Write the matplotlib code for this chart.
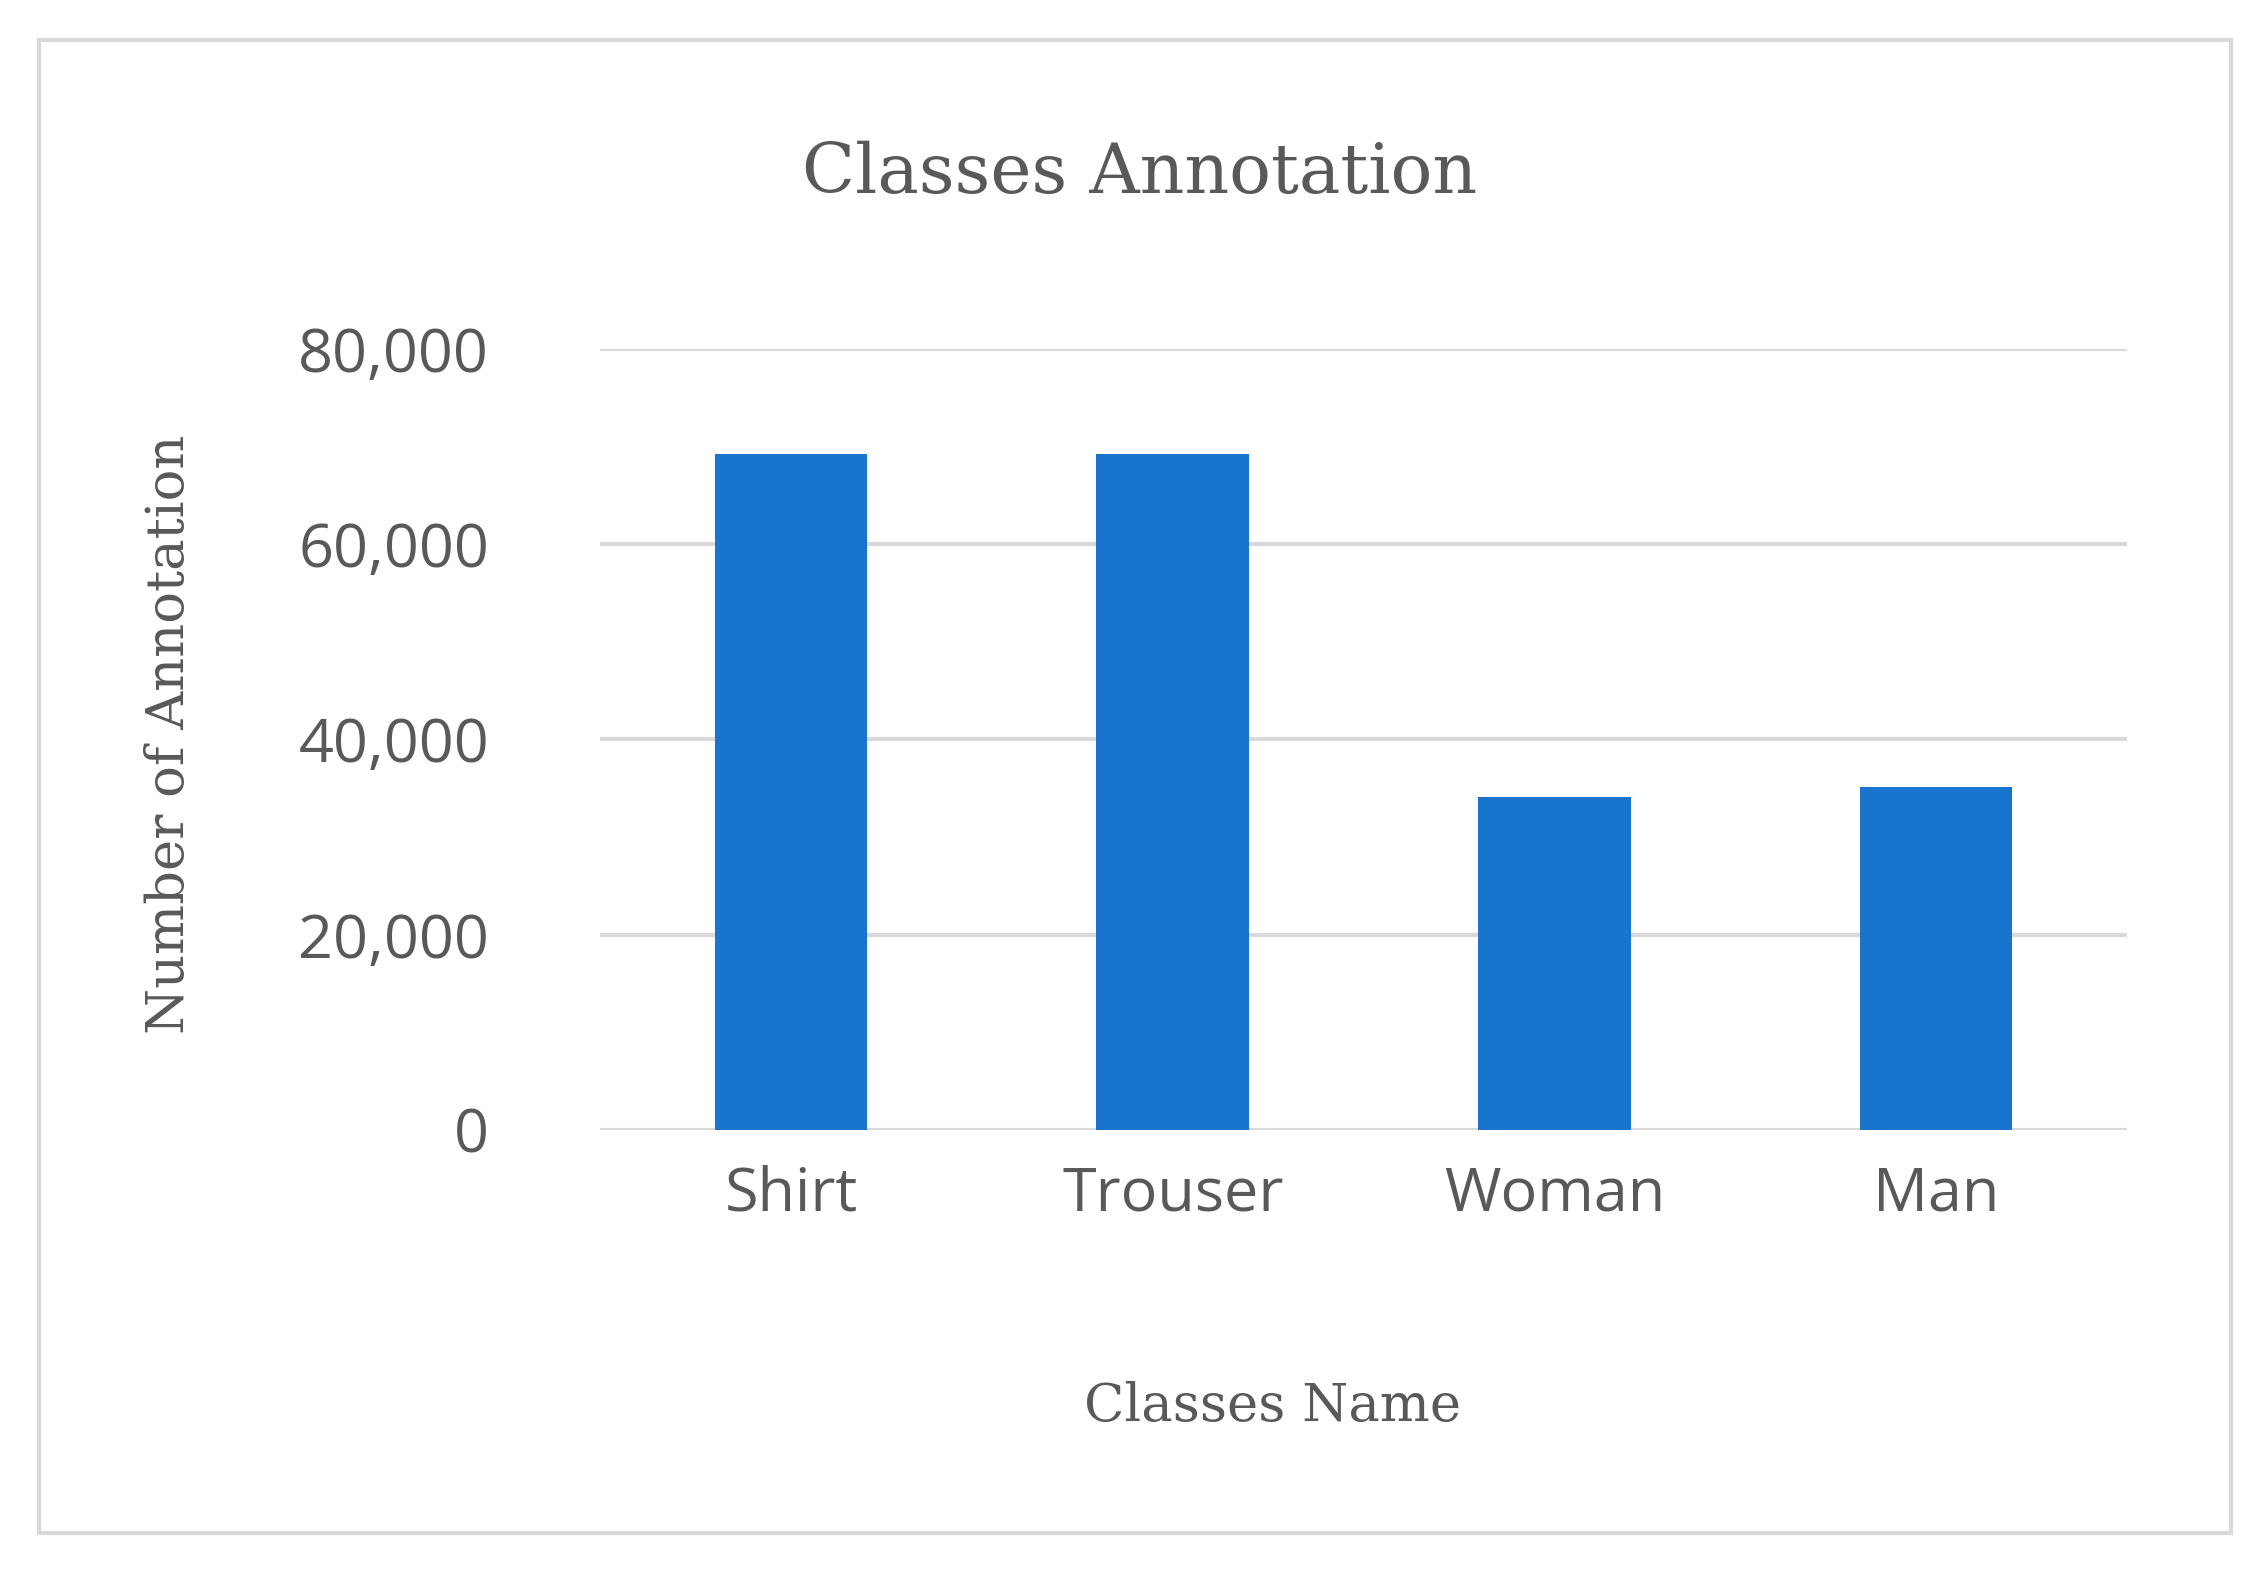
import matplotlib
matplotlib.use("Agg")
import matplotlib.pyplot as plt
from matplotlib.patches import Rectangle

categories = ["Shirt", "Trouser", "Woman", "Man"]
counts = [69300, 69300, 34100, 35100]
yticks = [0, 20000, 40000, 60000, 80000]

fig = plt.figure(figsize=(22.65, 15.8), dpi=100)
fig.patches.append(Rectangle((0.017, 0.03), 0.968, 0.945, transform=fig.transFigure,
                             fill=False, edgecolor="#d9d9d9", linewidth=3))

ax = fig.add_axes([0.265, 0.285, 0.674, 0.494])
x = range(len(categories))
ax.bar(x, counts, width=0.4, color="#1874cd", zorder=3)
ax.set_xlim(-0.5, 3.5)
ax.set_ylim(0, 80000)
ax.set_yticks(yticks)
ax.set_yticklabels([f"{v:,}" for v in yticks])
ax.set_xticks(list(x))
ax.set_xticklabels(categories)
ax.yaxis.grid(True, color="#d9d9d9", linewidth=3, zorder=0)
for s in ax.spines.values():
    s.set_visible(False)
ax.tick_params(length=0, labelsize=44, labelcolor="#595959", pad=25)
ax.tick_params(axis="y", pad=80)
for lab in ax.get_xticklabels() + ax.get_yticklabels():
    lab.set_family("Open Sans")

fig.text(0.503, 0.89, "Classes Annotation", ha="center", va="center",
         family="DejaVu Serif", fontsize=50, color="#595959")
fig.text(0.562, 0.11, "Classes Name", ha="center", va="center",
         family="DejaVu Serif", fontsize=38, color="#595959")
fig.text(0.075, 0.535, "Number of Annotation", ha="center", va="center", rotation=90,
         family="DejaVu Serif", fontsize=38, color="#595959")

fig.savefig("out.png", dpi=100, facecolor="white")
